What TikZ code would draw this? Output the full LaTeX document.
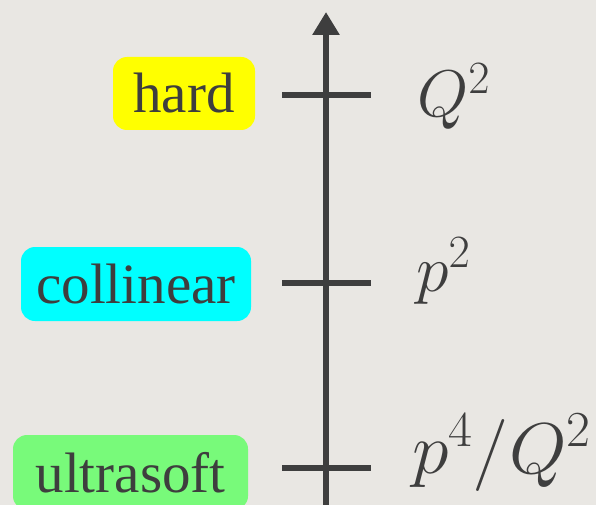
\RequirePackage{fix-cm}
\documentclass[tikz,border=0pt]{standalone}
\usepackage[no-math]{fontspec}
\newfontfamily\labelfont{Liberation Serif}
\usetikzlibrary{arrows.meta}
\definecolor{bg}{RGB}{233,231,227}
\definecolor{ink}{RGB}{62,62,62}
\definecolor{hardc}{RGB}{255,255,0}
\definecolor{collc}{RGB}{0,255,255}
\definecolor{usoftc}{RGB}{120,250,122}
\begin{document}
\begin{tikzpicture}[x=1pt,y=-1pt,
  region/.style={rounded corners=14pt, inner sep=0pt, text=ink, font=\labelfont\fontsize{57}{62}\selectfont},
  scalelab/.style={anchor=base west, inner sep=0pt, text=ink, font=\fontsize{66}{72}\selectfont},
  tickline/.style={draw=ink, line width=5.5pt},
  axisline/.style={draw=ink, line width=6pt, -{Triangle[width=26pt,length=23pt]}}]
\fill[bg] (0,0) rectangle (596,505);
\useasboundingbox (0,0) rectangle (596,505);
% axis
\coordinate (bot) at (326,505);
\coordinate (top) at (326,12);
\draw[axisline] (bot) -- (top);
% ticks
\coordinate (t1l) at (282,95);  \coordinate (t1r) at (371,95);
\coordinate (t2l) at (282,283); \coordinate (t2r) at (371,283);
\coordinate (t3l) at (282,468); \coordinate (t3r) at (371,468);
\draw[tickline] (t1l) -- (t1r);
\draw[tickline] (t2l) -- (t2r);
\draw[tickline] (t3l) -- (t3r);
% region boxes
\node[region, fill=hardc, minimum width=142pt, minimum height=73pt] (hard) at (184,93.5) {hard};
\node[region, fill=collc, minimum width=230pt, minimum height=74pt] (coll) at (136,284) {collinear};
\node[region, fill=usoftc, minimum width=235pt, minimum height=75pt] (usoft) at (130.5,472.5) {ultrasoft};
% scales
\node[scalelab] (q2) at (417,117) {$Q^2$};
\node[scalelab] (p2) at (416,291) {$p^2$};
\node[scalelab, font=\fontsize{72}{78}\selectfont, xscale=1.03] (p4) at (412,473) {$p^4/Q^2$};
\end{tikzpicture}
\end{document}
